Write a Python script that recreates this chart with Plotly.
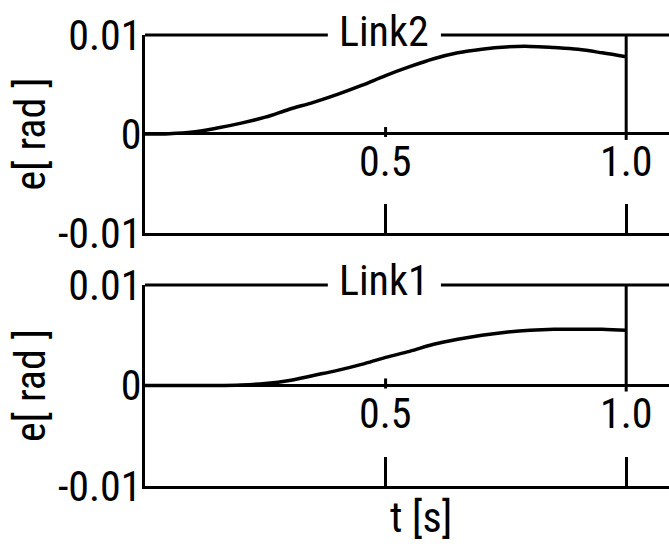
import plotly.graph_objects as go

# ---- data ----
t_link2 = [0.0, 0.05, 0.10, 0.15, 0.20, 0.25, 0.30, 0.35, 0.40, 0.45, 0.50,
           0.55, 0.60, 0.65, 0.70, 0.75, 0.80, 0.85, 0.90, 0.95, 1.00]
e_link2 = [0.0, 0.00003, 0.0002, 0.0006, 0.0011, 0.0017, 0.0025, 0.0032, 0.0040,
           0.0049, 0.0059, 0.0068, 0.0076, 0.0082, 0.00857, 0.0088, 0.00885,
           0.00873, 0.00855, 0.0082, 0.0078]

t_link1 = [0.0, 0.05, 0.10, 0.15, 0.20, 0.25, 0.30, 0.35, 0.40, 0.45, 0.50,
           0.55, 0.60, 0.65, 0.70, 0.75, 0.80, 0.85, 0.90, 0.95, 1.00]
e_link1 = [0.0, 0.0, 0.0, 0.0, 0.00005, 0.0002, 0.0005, 0.0010, 0.0015, 0.0021,
           0.0028, 0.0034, 0.0041, 0.0046, 0.0050, 0.0053, 0.0055, 0.0056,
           0.0056, 0.0056, 0.0055]

panel_titles = ["Link2", "Link1"]
x_tick_vals = [0.5, 1.0]
x_tick_text = ["0.5", "1.0"]
y_tick_vals = [-0.01, 0, 0.01]
y_tick_text = ["-0.01", "0", "0.01"]
t_end = 1.0
x_title = "t [s]"
y_title = "e[ rad ]"

FONT = "Roboto Condensed, DejaVu Sans Condensed, sans-serif"
FS = 42
BLACK = "black"
X_MAX = 1.089
TITLE_GAP = (0.380, 0.615)   # break in the top border for the panel title (in t units)
PANEL_DOMAINS = [[0.561, 1.0], [0.0, 0.4457]]

fig = go.Figure()
fig.add_trace(go.Scatter(x=t_link2, y=e_link2, mode="lines", xaxis="x", yaxis="y",
                         line=dict(color=BLACK, width=3.5, shape="spline")))
fig.add_trace(go.Scatter(x=t_link1, y=e_link1, mode="lines", xaxis="x2", yaxis="y2",
                         line=dict(color=BLACK, width=3.5, shape="spline")))

common_x = dict(range=[0, X_MAX], showticklabels=False, ticks="inside", tickvals=x_tick_vals,
                ticklen=29, tickwidth=3, tickcolor=BLACK, showline=True, linewidth=3,
                linecolor=BLACK, mirror=False, showgrid=False, zeroline=False)
common_y = dict(range=[-0.01, 0.01], tickvals=y_tick_vals, ticktext=y_tick_text,
                ticks="", showline=True, linewidth=3, linecolor=BLACK, showgrid=False,
                zeroline=True, zerolinewidth=3, zerolinecolor=BLACK,
                ticklabelstandoff=-8,
                tickfont=dict(family=FONT, size=FS, color=BLACK),
                title=dict(text=y_title, font=dict(family=FONT, size=FS, color=BLACK),
                           standoff=0))

fig.update_layout(
    width=669, height=544,
    margin=dict(l=145, r=0, t=35, b=58),
    paper_bgcolor="white", plot_bgcolor="white",
    showlegend=False,
    xaxis=dict(domain=[0, 1], anchor="y", **common_x),
    yaxis=dict(domain=PANEL_DOMAINS[0], anchor="x", **common_y),
    xaxis2=dict(domain=[0, 1], anchor="y2", **common_x),
    yaxis2=dict(domain=PANEL_DOMAINS[1], anchor="x2", **common_y),
)

annotations = []
shapes = []
for i, (xa, ya) in enumerate([("x", "y"), ("x2", "y2")]):
    top = PANEL_DOMAINS[i][1]
    # top border, broken by the panel title
    for x0, x1 in [(0.0, TITLE_GAP[0]), (TITLE_GAP[1], X_MAX)]:
        shapes.append(dict(type="line", xref="paper", yref="paper",
                           x0=x0 / X_MAX, x1=x1 / X_MAX, y0=top, y1=top,
                           line=dict(color=BLACK, width=3)))
    annotations.append(dict(text=panel_titles[i], x=sum(TITLE_GAP) / 2, y=0.01,
                            xref=xa, yref=ya, showarrow=False,
                            yshift=4, xanchor="center", yanchor="middle",
                            font=dict(family=FONT, size=FS, color=BLACK)))
    for v, txt in zip(x_tick_vals, x_tick_text):
        annotations.append(dict(text=txt, x=v, y=0, xref=xa, yref=ya, showarrow=False,
                                yshift=-28, xanchor="center", yanchor="middle",
                                font=dict(family=FONT, size=FS, color=BLACK)))
    # end-of-motion marker
    shapes.append(dict(type="line", xref=xa, yref=ya, x0=t_end, x1=t_end,
                       y0=-0.0006, y1=0.01, line=dict(color=BLACK, width=3)))
    # small tick on zero line
    shapes.append(dict(type="line", xref=xa, yref=ya, x0=x_tick_vals[0], x1=x_tick_vals[0],
                       y0=-0.0003, y1=0.0007, line=dict(color=BLACK, width=3)))

annotations.append(dict(text=x_title, x=0.574, y=-0.01, xref="x2", yref="y2",
                        showarrow=False, yshift=-32, xanchor="center", yanchor="middle",
                        font=dict(family=FONT, size=FS, color=BLACK)))
fig.update_layout(annotations=annotations, shapes=shapes)

fig.write_html("out.html", config={"displayModeBar": False},
               post_script="document.body.style.margin='0';")
